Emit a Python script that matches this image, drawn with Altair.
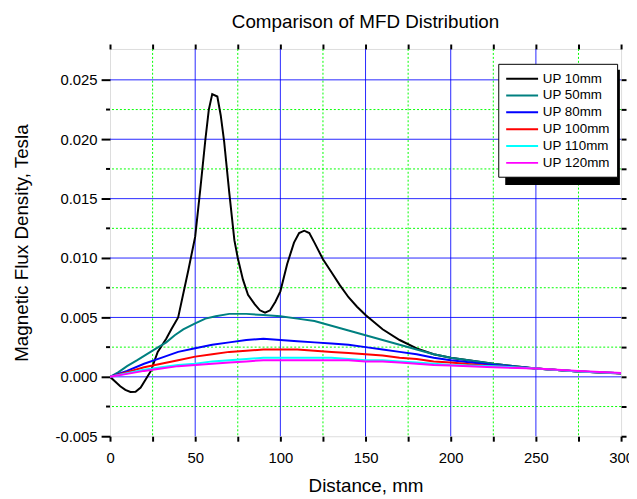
import altair as alt
import pandas as pd

# ---------------- data ----------------
series_names = ["UP 10mm", "UP 50mm", "UP 80mm", "UP 100mm", "UP 110mm", "UP 120mm"]
series_colors = ["#000000", "#008080", "#0000ff", "#ff0000", "#00ffff", "#ff00ff"]

dist_10 = [0, 3, 6, 9, 12, 15, 18, 21, 24, 28, 33, 36, 40, 46, 50, 53, 56, 58, 60, 63,
           65, 67, 70, 73, 75, 78, 81, 85, 88, 91, 94, 97, 100, 104, 108, 111, 114, 117,
           120, 125, 130, 135, 140, 145, 150, 160, 170, 180, 190, 200, 225, 250, 275, 300]
flux_10 = [0.0, -0.0004, -0.0008, -0.0011, -0.00127, -0.00125, -0.0009, -0.0002, 0.0005,
           0.0021, 0.0032, 0.0040, 0.0050, 0.0090, 0.0118, 0.0158, 0.0200, 0.0225, 0.0238,
           0.0236, 0.0220, 0.0198, 0.0155, 0.0115, 0.0100, 0.0082, 0.0069, 0.0061, 0.0056,
           0.0054, 0.0056, 0.0063, 0.0072, 0.0095, 0.0113, 0.0121, 0.0123, 0.0121, 0.0113,
           0.0099, 0.0088, 0.0077, 0.0067, 0.0059, 0.0052, 0.0040, 0.0031, 0.0024, 0.0019,
           0.0016, 0.0011, 0.0007, 0.00045, 0.00027]

dist_50 = [0, 5, 10, 16, 25, 33, 38, 43, 50, 56, 62, 70, 80, 90, 100, 110, 120, 130, 140,
           150, 160, 170, 180, 190, 200, 225, 250, 275, 300]
flux_50 = [0.0, 0.0004, 0.0009, 0.0014, 0.0022, 0.0029, 0.0035, 0.0040, 0.0045, 0.0049,
           0.0051, 0.0053, 0.0053, 0.0052, 0.0051, 0.0049, 0.0047, 0.0043, 0.0039, 0.0035,
           0.0031, 0.0027, 0.0023, 0.0019, 0.0016, 0.0011, 0.0007, 0.00045, 0.0003]

dist_other = [0, 10, 20, 30, 40, 50, 60, 70, 80, 90, 100, 110, 120, 130, 140, 150, 160,
              170, 180, 190, 200, 225, 250, 275, 300]
flux_80 = [0.0, 0.0005, 0.0011, 0.0016, 0.0021, 0.0024, 0.0027, 0.0029, 0.0031, 0.0032,
           0.0031, 0.0030, 0.0029, 0.0028, 0.0027, 0.0025, 0.0023, 0.0021, 0.0019, 0.0016,
           0.0014, 0.0010, 0.0007, 0.00045, 0.0003]
flux_100 = [0.0, 0.0004, 0.0008, 0.0011, 0.0014, 0.0017, 0.0019, 0.0021, 0.0022, 0.0023,
            0.0023, 0.0023, 0.0022, 0.0021, 0.0020, 0.0019, 0.0018, 0.0016, 0.0015, 0.0013,
            0.0012, 0.0009, 0.0007, 0.00045, 0.0003]
flux_110 = [0.0, 0.0003, 0.0006, 0.0008, 0.0010, 0.0011, 0.0013, 0.0014, 0.0015, 0.0016,
            0.0016, 0.0016, 0.0016, 0.0016, 0.0015, 0.0014, 0.0014, 0.0013, 0.0012, 0.0011,
            0.0010, 0.0009, 0.0007, 0.00045, 0.0003]
flux_120 = [0.0, 0.00025, 0.0005, 0.0007, 0.0009, 0.0010, 0.0011, 0.0012, 0.0013, 0.0014,
            0.0014, 0.0014, 0.0014, 0.0014, 0.0014, 0.0013, 0.0013, 0.0012, 0.0011, 0.0010,
            0.00095, 0.0008, 0.0007, 0.0005, 0.00033]

x_major = [50, 100, 150, 200, 250]
x_minor = [25, 75, 125, 175, 225, 275]
x_ticks = [0, 25, 50, 75, 100, 125, 150, 175, 200, 225, 250, 275, 300]
y_major = [0.0, 0.005, 0.010, 0.015, 0.020, 0.025]
y_minor = [-0.0025, 0.0025, 0.0075, 0.0125, 0.0175, 0.0225]
y_ticks = [-0.005, 0.0, 0.005, 0.010, 0.015, 0.020, 0.025]
y_all_ticks = [-0.005, -0.0025, 0.0, 0.0025, 0.005, 0.0075, 0.010, 0.0125, 0.015,
               0.0175, 0.020, 0.0225, 0.025]

# ---------------- tables ----------------
rows = []
for name, ds, fs in [
    ("UP 10mm", dist_10, flux_10),
    ("UP 50mm", dist_50, flux_50),
    ("UP 80mm", dist_other, flux_80),
    ("UP 100mm", dist_other, flux_100),
    ("UP 110mm", dist_other, flux_110),
    ("UP 120mm", dist_other, flux_120),
]:
    for d, f in zip(ds, fs):
        rows.append({"series": name, "distance": d, "flux": f})
df = pd.DataFrame(rows)

xs = alt.Scale(domain=[0, 300], nice=False, zero=False)
ys = alt.Scale(domain=[-0.005, 0.0276], nice=False, zero=False)

FONT = "Liberation Sans"

grid_xmaj = alt.Chart(pd.DataFrame({"v": x_major})).mark_rule(
    color="#0000ff", strokeWidth=1, opacity=0.85
).encode(x=alt.X("v:Q", scale=xs, axis=None))
grid_ymaj = alt.Chart(pd.DataFrame({"v": y_major})).mark_rule(
    color="#0000ff", strokeWidth=1, opacity=0.85
).encode(y=alt.Y("v:Q", scale=ys, axis=None))
grid_xmin = alt.Chart(pd.DataFrame({"v": x_minor})).mark_rule(
    color="#00ff00", strokeWidth=1, strokeDash=[2, 2]
).encode(x=alt.X("v:Q", scale=xs, axis=None))
grid_ymin = alt.Chart(pd.DataFrame({"v": y_minor})).mark_rule(
    color="#00ff00", strokeWidth=1, strokeDash=[2, 2]
).encode(y=alt.Y("v:Q", scale=ys, axis=None))

minor_ticks = alt.Chart(pd.DataFrame({"v": y_minor})).mark_rule(
    color="black", strokeWidth=2
).encode(y=alt.Y("v:Q", scale=ys, axis=None), x=alt.value(-4), x2=alt.value(0))

# legend drop shadow (decoration behind the legend box)
shadow_box = pd.DataFrame({"x0": [232.0], "x1": [299.3], "y0": [0.01615], "y1": [0.02585]})
shadow = alt.Chart(shadow_box).mark_rect(color="black").encode(
    x=alt.X("x0:Q", scale=xs, axis=None), x2="x1:Q",
    y=alt.Y("y0:Q", scale=ys, axis=None), y2="y1:Q",
)

y_label_expr = ("datum.value < 0 ? '-' + format(-datum.value, '.3f') "
                ": format(datum.value, '.3f')")

lines = alt.Chart(df).mark_line(strokeWidth=2, clip=True).encode(
    x=alt.X("distance:Q", scale=xs,
            axis=alt.Axis(values=x_ticks, orient="bottom", title="Distance, mm",
                          labelExpr="datum.value % 50 == 0 ? datum.label : ''",
                          tickSize=5, tickWidth=2, tickColor="black", domain=False,
                          grid=False, labelFontSize=15, labelColor="black",
                          labelPadding=10, titleFontSize=19, titleFontWeight="normal",
                          titlePadding=11, titleColor="black", labelFlush=False)),
    y=alt.Y("flux:Q", scale=ys,
            axis=alt.Axis(values=y_ticks, orient="left", labelExpr=y_label_expr,
                          title="Magnetic Flux Density, Tesla",
                          tickSize=9, tickWidth=2, tickColor="black", domain=False,
                          grid=False, labelFontSize=15, labelColor="black",
                          labelPadding=4, titleFontSize=19, titleFontWeight="normal",
                          titlePadding=24, titleColor="black", labelFlush=False)),
    color=alt.Color("series:N",
                    scale=alt.Scale(domain=series_names, range=series_colors),
                    legend=alt.Legend(orient="none", legendX=392, legendY=15, title=None,
                                      fillColor="white", strokeColor="black",
                                      padding=7, symbolType="M-1,0H3.6",
                                      symbolStrokeWidth=2, symbolSize=196,
                                      labelFontSize=13.5, labelFont=FONT,
                                      labelColor="black", rowPadding=2,
                                      labelOffset=22)),
    order=alt.Order("distance:Q"),
)

frame_axes = alt.Chart(df).mark_point(opacity=0).encode(
    x=alt.X("distance:Q", scale=xs,
            axis=alt.Axis(values=x_ticks, orient="top", labels=False, title=None,
                          tickSize=5, tickWidth=2, tickColor="black", domain=False,
                          grid=False)),
    y=alt.Y("flux:Q", scale=ys,
            axis=alt.Axis(values=y_all_ticks, orient="right", labels=False, title=None,
                          tickSize=5, tickWidth=2, tickColor="black", domain=False,
                          grid=False)),
)

chart = alt.layer(
    grid_xmin, grid_ymin, grid_xmaj, grid_ymaj, lines, shadow, minor_ticks, frame_axes
).resolve_axis(x="independent", y="independent").properties(
    width=516, height=391,
    autosize=alt.AutoSizeParams(type="none"),
    padding={"left": 103, "top": 39, "right": 8, "bottom": 60},
    title=alt.TitleParams("Comparison of MFD Distribution", fontSize=19,
                          fontWeight="normal", font=FONT, color="black", offset=11),
).configure_view(stroke="black", strokeWidth=3).configure(font=FONT)

chart.save("out.html", embed_options={"renderer": "svg", "actions": False})
